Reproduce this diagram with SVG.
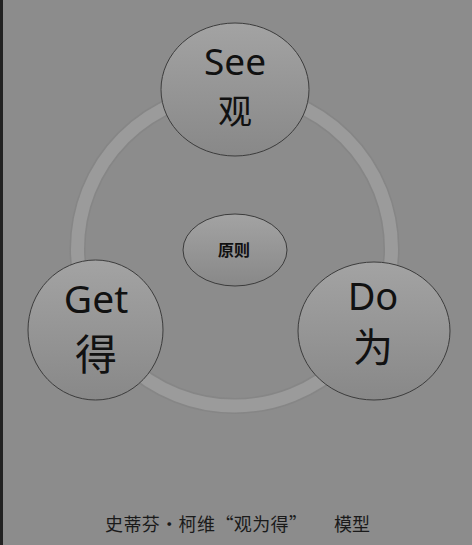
<svg xmlns="http://www.w3.org/2000/svg" width="472" height="545" viewBox="0 0 472 545">
<defs>
<linearGradient id="g" x1="0" y1="0" x2="0" y2="1">
<stop offset="0" stop-color="#a3a3a3"/>
<stop offset="1" stop-color="#888888"/>
</linearGradient>
<style>
.node{fill:url(#g);stroke:#3c3c3c;stroke-width:1}
.lbl{font-family:"Noto Sans","Noto Sans CJK SC",sans-serif;fill:#111;text-anchor:middle}
.cjk{font-family:"Noto Sans CJK SC",sans-serif;fill:#111;text-anchor:middle}
.cap{font-family:"Noto Sans CJK SC",sans-serif;fill:#1a1a1a;font-size:18px}
</style>
</defs>
<rect width="472" height="545" fill="#8c8c8c"/>
<rect width="3" height="545" fill="#222"/>
<g id="connectors">
<circle cx="234.5" cy="249" r="157" fill="none" stroke="#7f7f7f" stroke-width="16" opacity="0.5"/>
<circle cx="234.5" cy="249" r="157" fill="none" stroke="#9b9b9b" stroke-width="13"/>
</g>
<g id="see">
<ellipse class="node" cx="235" cy="89.5" rx="74" ry="66.5"/>
<text class="lbl" x="235" y="75" font-size="37">See</text>
<text class="cjk" x="235" y="124" font-size="34">观</text>
</g>
<g id="get">
<ellipse class="node" cx="95.5" cy="330" rx="67.5" ry="70"/>
<text class="lbl" x="96" y="313" font-size="39">Get</text>
<text class="cjk" x="96" y="370" font-size="42">得</text>
</g>
<g id="do">
<ellipse class="node" cx="374" cy="331" rx="76" ry="69"/>
<text class="lbl" x="373" y="310" font-size="38">Do</text>
<text class="cjk" x="373" y="362" font-size="40">为</text>
</g>
<g id="principle">
<ellipse class="node" cx="235" cy="250" rx="52" ry="36"/>
<text class="cjk" x="234" y="256" font-size="16" font-weight="bold">原则</text>
</g>
<text class="cap" x="105" y="531" textLength="202" lengthAdjust="spacing">史蒂芬·柯维“观为得”</text>
<text class="cap" x="334" y="531">模型</text>
</svg>
